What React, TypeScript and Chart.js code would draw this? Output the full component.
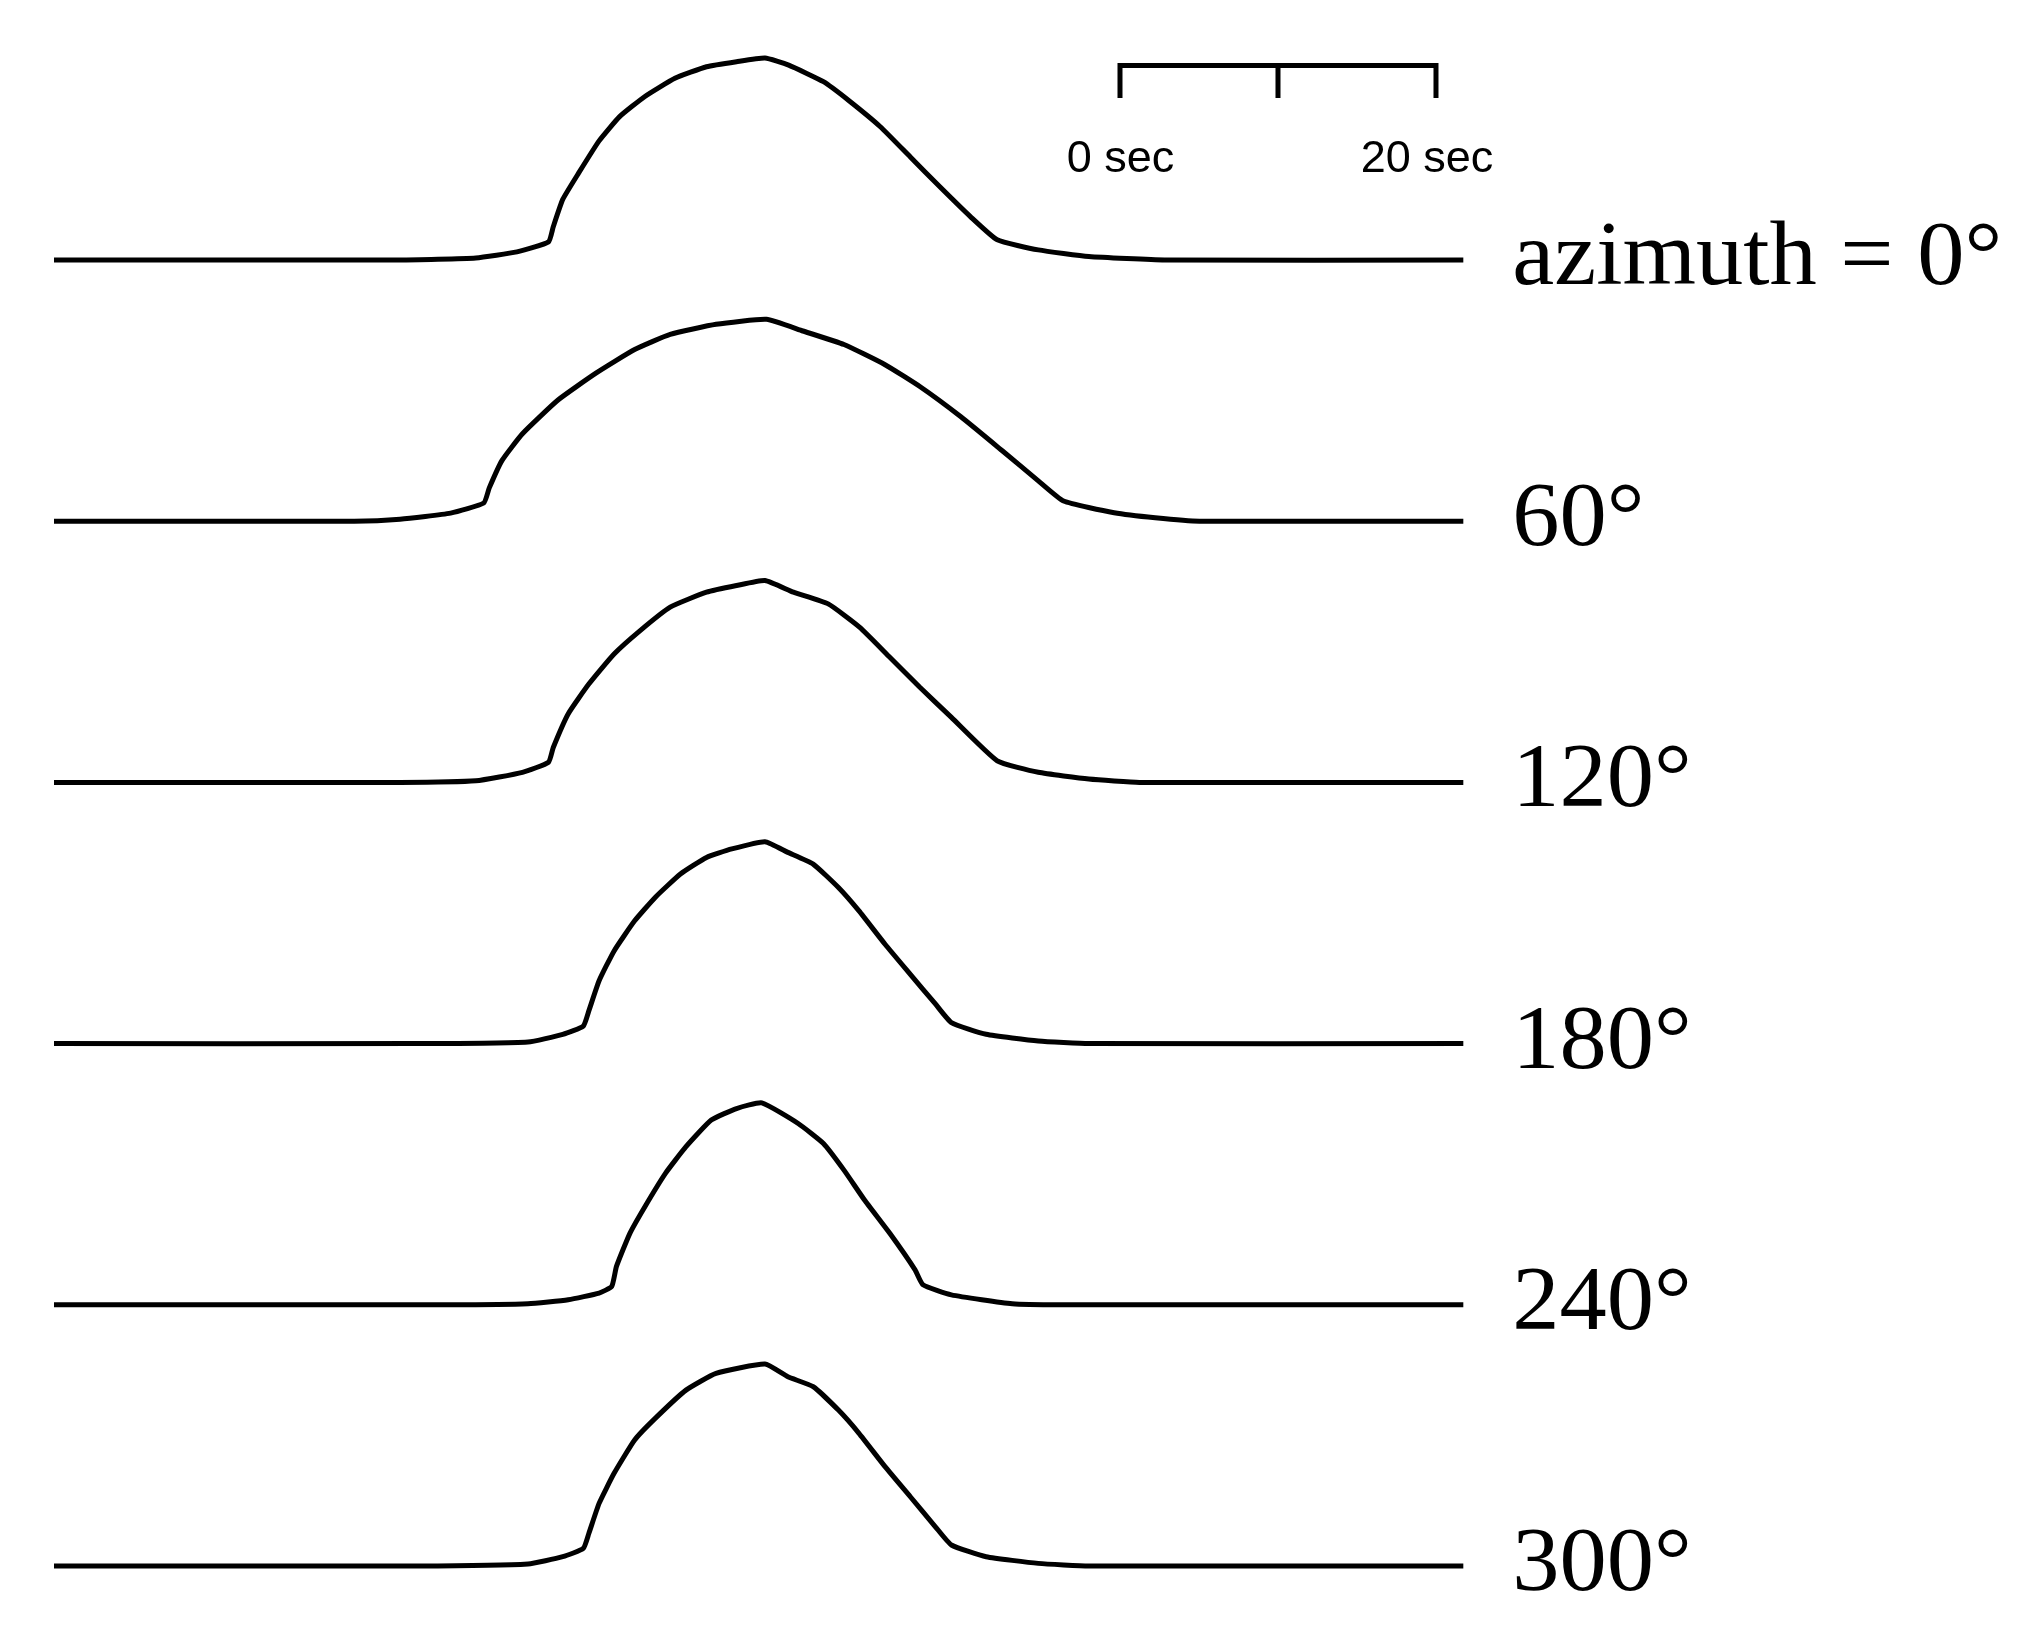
import React, { useEffect, useRef } from "react";
import { Chart, registerables } from "chart.js";

Chart.register(...registerables);

// ---- data (time in seconds, normalized amplitude) ----
const azimuthLabels = ["azimuth = 0°", "60°", "120°", "180°", "240°", "300°"];
const traceOffsets = [5, 4, 3, 2, 1, 0];
const traceGain = 0.773;

const t0 = [0, 21.9, 26.7, 29.3, 31.3, 31.6, 32.2, 33.2, 34.5, 35.8, 37.4, 39.3, 41.3, 43.2, 45.0, 46.5, 48.7, 50.3, 52.3, 54.2, 56.1, 58.0, 59.7, 62.3, 65.5, 70.3, 89.2];
const a0 = [0, 0, 0.01, 0.04, 0.09, 0.165, 0.3, 0.43, 0.59, 0.71, 0.81, 0.9, 0.957, 0.982, 1.0, 0.965, 0.883, 0.79, 0.66, 0.51, 0.36, 0.215, 0.1, 0.05, 0.017, 0, 0];

const t60 = [0, 19.0, 21.9, 25.1, 27.2, 27.55, 28.35, 29.65, 31.9, 34.3, 36.75, 39.0, 41.9, 45.1, 47.4, 50.0, 52.6, 54.8, 57.4, 60.0, 62.3, 63.9, 67.1, 69.7, 72.5, 89.2];
const a60 = [0, 0, 0.01, 0.04, 0.09, 0.165, 0.3, 0.433, 0.6, 0.733, 0.85, 0.925, 0.975, 1.0, 0.942, 0.875, 0.775, 0.667, 0.517, 0.35, 0.2, 0.1, 0.042, 0.017, 0, 0];

const t120 = [0, 21.9, 26.7, 29.65, 31.3, 31.6, 32.55, 33.85, 35.45, 37.1, 39.0, 41.3, 43.2, 45.0, 46.8, 49.0, 51.0, 52.9, 54.8, 56.8, 59.7, 62.3, 65.5, 68.7, 89.2];
const a120 = [0, 0, 0.008, 0.05, 0.1, 0.173, 0.34, 0.487, 0.636, 0.752, 0.868, 0.942, 0.975, 1.0, 0.942, 0.884, 0.768, 0.62, 0.471, 0.322, 0.107, 0.05, 0.017, 0, 0];

const t180 = [0, 23.0, 30.0, 32.2, 33.5, 33.85, 34.5, 35.45, 36.75, 38.05, 39.65, 41.3, 42.9, 45.0, 46.45, 48.05, 49.65, 50.95, 52.6, 54.2, 55.8, 56.8, 59.0, 62.3, 65.5, 89.2];
const a180 = [0, 0, 0.008, 0.046, 0.087, 0.162, 0.311, 0.459, 0.608, 0.724, 0.84, 0.922, 0.964, 1.0, 0.947, 0.889, 0.773, 0.657, 0.492, 0.343, 0.195, 0.104, 0.046, 0.013, 0, 0];

const t240 = [0, 25.0, 30.0, 32.55, 34.5, 35.3, 35.6, 36.45, 37.4, 38.7, 40.0, 41.6, 43.2, 44.8, 47.1, 48.7, 50.0, 51.3, 52.9, 54.5, 55.0, 56.8, 60.65, 63.7, 89.2];
const a240 = [0, 0, 0.005, 0.025, 0.058, 0.091, 0.19, 0.354, 0.486, 0.651, 0.783, 0.915, 0.972, 1.0, 0.898, 0.799, 0.667, 0.519, 0.354, 0.173, 0.099, 0.049, 0.005, 0, 0];

const t300 = [0, 23.0, 30.0, 32.2, 33.5, 33.85, 34.5, 35.45, 36.75, 38.05, 40.0, 41.9, 45.0, 46.45, 48.05, 49.65, 50.95, 52.6, 54.2, 55.8, 56.8, 59.0, 62.3, 65.5, 89.2];
const a300 = [0, 0, 0.01, 0.046, 0.087, 0.161, 0.31, 0.459, 0.624, 0.731, 0.871, 0.954, 1.0, 0.937, 0.888, 0.772, 0.657, 0.492, 0.343, 0.193, 0.104, 0.046, 0.013, 0, 0];

const traceTimes = [t0, t60, t120, t180, t240, t300];
const traceAmps = [a0, a60, a120, a180, a240, a300];

// scale bar (seconds)
const scaleBarStart = 67.47;
const scaleBarLength = 20;
const scaleBarLabels = ["0 sec", "20 sec"];
const scaleBarLabelT = [67.5, 86.9];

export default function App() {
  const ref = useRef<HTMLCanvasElement | null>(null);

  useEffect(() => {
    const canvas = ref.current;
    if (!canvas) return;

    const barTop = 5.7446;
    const barBottom = 5.6202;
    const s0 = scaleBarStart;
    const s1 = scaleBarStart + scaleBarLength / 2;
    const s2 = scaleBarStart + scaleBarLength;

    const traceSets = traceTimes.map((ts, i) => ({
      data: ts.map((t, j) => ({ x: t, y: traceOffsets[i] + traceGain * traceAmps[i][j] })),
      borderColor: "#000",
      borderWidth: 5,
      pointRadius: 0,
      tension: 0.15,
      fill: false,
      borderJoinStyle: "round" as const,
    }));

    const barSets = [
      {
        data: [
          { x: s0, y: barBottom },
          { x: s0, y: barTop },
          { x: s2, y: barTop },
          { x: s2, y: barBottom },
        ],
      },
      {
        data: [
          { x: s1, y: barTop },
          { x: s1, y: barBottom },
        ],
      },
    ].map((d) => ({
      ...d,
      borderColor: "#000",
      borderWidth: 5,
      pointRadius: 0,
      tension: 0,
      fill: false,
      borderCapStyle: "butt" as const,
      borderJoinStyle: "miter" as const,
    }));

    const labelPlugin = {
      id: "labels",
      afterDraw(chart: any) {
        const ctx = chart.ctx;
        const xs = chart.scales.x;
        const ys = chart.scales.y;
        ctx.save();
        ctx.fillStyle = "#000";
        ctx.textBaseline = "alphabetic";
        ctx.font = "90px 'Liberation Serif', 'Times New Roman', serif";
        ctx.textAlign = "left";
        const lx = xs.getPixelForValue(92.3);
        azimuthLabels.forEach((lab, i) => {
          const y = ys.getPixelForValue(traceOffsets[i]) + 24;
          ctx.save();
          ctx.translate(lx, y);
          ctx.scale(1.05, 1);
          ctx.fillText(lab, 0, 0);
          ctx.restore();
        });
        ctx.font = "45px 'Liberation Sans', Arial, sans-serif";
        ctx.textAlign = "center";
        const ly = ys.getPixelForValue(barBottom) + 74;
        scaleBarLabels.forEach((lab, i) => {
          ctx.fillText(lab, xs.getPixelForValue(scaleBarLabelT[i]), ly);
        });
        ctx.restore();
      },
    };

    const chart = new Chart(canvas, {
      type: "line",
      data: { datasets: [...traceSets, ...barSets] as any },
      options: {
        animation: false,
        responsive: false,
        devicePixelRatio: 1,
        layout: { padding: 0 },
        plugins: { legend: { display: false }, tooltip: { enabled: false } },
        events: [],
        scales: {
          x: { type: "linear", display: false, min: -3.4177, max: 124.75 },
          y: { type: "linear", display: false, min: -0.3178, max: 5.9954 },
        },
      },
      plugins: [labelPlugin],
    });
    return () => chart.destroy();
  }, []);

  return (
    <div style={{ position: "absolute", left: 0, top: 0, width: 2025, height: 1649, background: "#fff" }}>
      <canvas ref={ref} width={2025} height={1649} style={{ display: "block" }} />
    </div>
  );
}
